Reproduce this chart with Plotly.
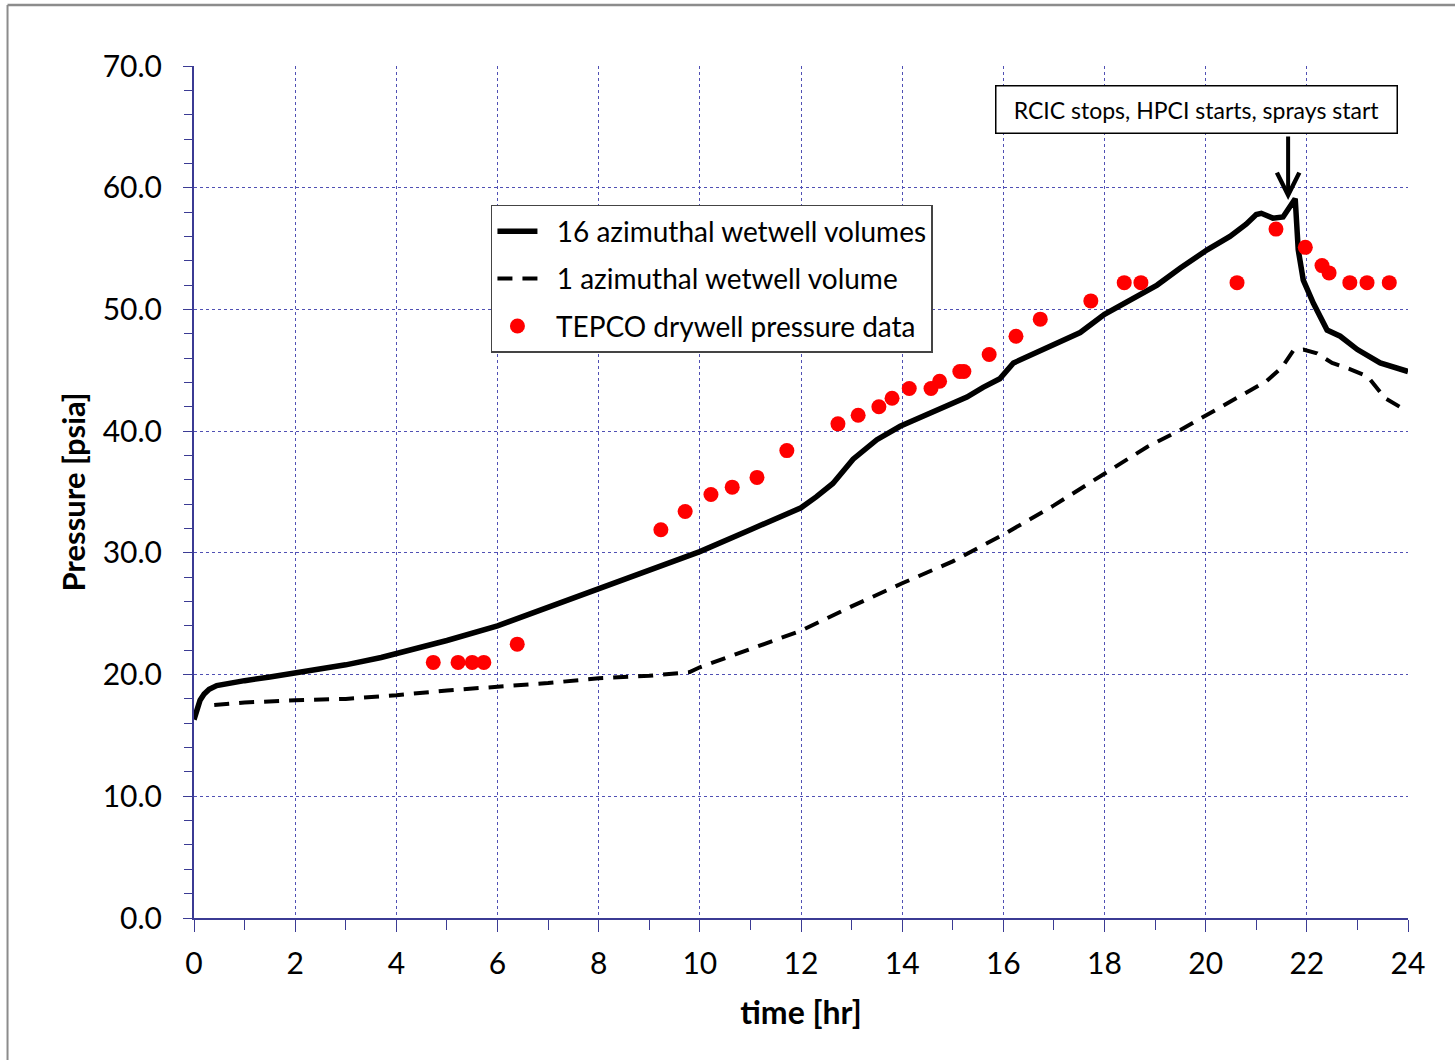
import plotly.graph_objects as go

# ---- data ----
solid_t = [0.0, 0.06, 0.12, 0.2, 0.3, 0.45, 0.7, 1.0, 1.5, 2.0, 3.0, 3.7, 4.0, 5.0, 6.0, 7.0, 8.0, 9.0,
           10.0, 11.0, 12.0, 12.3, 12.63, 13.03, 13.5, 13.96, 14.6, 15.28, 15.6, 15.93, 16.2, 16.86,
           17.52, 18.0, 18.5, 19.04, 19.5, 20.03, 20.48, 20.8, 21.0, 21.1, 21.33, 21.53, 21.77,
           21.83, 21.93, 22.13, 22.4, 22.66, 23.0, 23.45, 24.0]
solid_p = [16.3, 17.2, 17.9, 18.4, 18.8, 19.1, 19.3, 19.5, 19.8, 20.1, 20.8, 21.4, 21.7, 22.8, 24.0, 25.5, 27.0, 28.6,
           30.1, 31.9, 33.7, 34.6, 35.7, 37.7, 39.3, 40.4, 41.6, 42.8, 43.6, 44.3, 45.6, 46.9,
           48.1, 49.6, 50.8, 52.0, 53.4, 54.9, 56.0, 57.0, 57.8, 57.9, 57.5, 57.6, 59.1,
           54.9, 52.4, 50.5, 48.3, 47.8, 46.7, 45.6, 44.9]

dash_t = [0.4, 1.0, 2.0, 3.0, 4.0, 5.0, 6.0, 7.0, 8.0, 9.0, 9.8, 10.0, 11.0, 12.0, 13.0, 14.0, 15.0, 16.0,
          17.0, 18.0, 18.84, 19.5, 20.15, 20.8, 21.2, 21.5, 21.73, 21.93, 22.2, 22.5, 22.85, 23.2, 23.55, 24.0]
dash_p = [17.5, 17.7, 17.9, 18.0, 18.3, 18.7, 19.0, 19.3, 19.7, 19.9, 20.2, 20.6, 22.1, 23.6, 25.6, 27.5, 29.3, 31.5,
          33.9, 36.5, 38.7, 40.1, 41.6, 43.1, 44.1, 45.2, 46.6, 46.7, 46.4, 45.6, 45.1, 44.5, 42.7, 41.6]

tepco_t = [4.73, 5.22, 5.50, 5.73, 6.39, 9.23, 9.71, 10.22, 10.64, 11.13, 11.72, 12.73, 13.13, 13.54,
           13.80, 14.14, 14.57, 14.74, 15.14, 15.22, 15.72, 16.25, 16.73, 17.73, 18.39, 18.72, 20.62,
           21.39, 21.97, 22.30, 22.44, 22.85, 23.19, 23.63]
tepco_p = [21.0, 21.0, 21.0, 21.0, 22.5, 31.9, 33.4, 34.8, 35.4, 36.2, 38.4, 40.6, 41.3, 42.0,
           42.7, 43.5, 43.5, 44.1, 44.9, 44.9, 46.3, 47.8, 49.2, 50.7, 52.2, 52.2, 52.2,
           56.6, 55.1, 53.6, 53.0, 52.2, 52.2, 52.2]

series_names = ["16 azimuthal wetwell volumes", "1 azimuthal wetwell volume", "TEPCO drywell pressure data"]
annotation_text = "RCIC stops, HPCI starts, sprays start"
event_t, event_p = 21.63, 59.0

FONT = "Lato"
AXIS_COL = "#3b3b94"
GRID_COL = "#5050b4"
PAD = "\u00a0\u00a0"

fig = go.Figure()
fig.add_trace(go.Scatter(x=solid_t, y=solid_p, mode="lines", name=PAD + series_names[0],
                         line=dict(color="black", width=5.5), legendgroup="a"))
fig.add_trace(go.Scatter(x=dash_t, y=dash_p, mode="lines", name=PAD + series_names[1],
                         line=dict(color="black", width=4, dash="15px,10px"), legendgroup="b"))
fig.add_trace(go.Scatter(x=tepco_t, y=tepco_p, mode="markers", name=PAD + series_names[2],
                         marker=dict(color="#ff0000", size=15, line=dict(width=0)), legendgroup="c"))

fig.update_layout(
    width=1455, height=1060,
    margin=dict(l=194, r=47, t=66, b=142),
    paper_bgcolor="white", plot_bgcolor="white",
    font=dict(family=FONT, color="black"),
    showlegend=True,
    legend=dict(x=0.2446, y=0.8369, xanchor="left", yanchor="top",
                bgcolor="white", bordercolor="#444444", borderwidth=1.5,
                font=dict(family=FONT, size=28, color="black"),
                tracegroupgap=8, traceorder="grouped", itemwidth=40),
    xaxis=dict(range=[0, 24], dtick=2, tick0=0, showgrid=True, gridcolor=GRID_COL, gridwidth=1,
               griddash="dot", showline=True, linecolor=AXIS_COL, linewidth=2,
               ticks="outside", ticklen=12, tickwidth=1, tickcolor=AXIS_COL,
               minor=dict(dtick=1, ticks="outside", ticklen=10, tickwidth=1, tickcolor=AXIS_COL, showgrid=False),
               tickfont=dict(family=FONT, size=30, color="black"), ticklabelstandoff=6,
               zeroline=False,
               title=dict(text="time [hr]", font=dict(family=FONT, size=32, weight="bold"), standoff=23)),
    yaxis=dict(range=[0, 70], dtick=10, tick0=0, tickformat=".1f", showgrid=True, gridcolor=GRID_COL,
               gridwidth=1, griddash="dot", showline=True, linecolor=AXIS_COL, linewidth=2,
               ticks="outside", ticklen=9, tickwidth=1, tickcolor=AXIS_COL,
               minor=dict(dtick=2, ticks="outside", ticklen=8, tickwidth=1, tickcolor=AXIS_COL, showgrid=False),
               tickfont=dict(family=FONT, size=30, color="black"), ticklabelstandoff=15,
               zeroline=False,
               title=dict(text="Pressure [psia]", font=dict(family=FONT, size=31, weight="bold"), standoff=8)),
    xaxis2=dict(range=[0, 24], overlaying="x", anchor="y", side="bottom", dtick=1, tick0=0,
                ticks="inside", ticklen=11, tickwidth=1, tickcolor=AXIS_COL, showticklabels=False,
                showgrid=False, showline=False, zeroline=False),
    yaxis2=dict(range=[0, 70], overlaying="y", anchor="x", side="left", dtick=2, tick0=0,
                ticks="inside", ticklen=9, tickwidth=1, tickcolor=AXIS_COL, showticklabels=False,
                showgrid=False, showline=False, zeroline=False),
)

# annotation box
fig.add_annotation(x=19.81, y=66.4, xref="x", yref="y", text=annotation_text, showarrow=False,
                   font=dict(family=FONT, size=23, color="black"), bgcolor="white",
                   bordercolor="black", borderwidth=1.5, borderpad=8, width=384, height=30)
# arrow
fig.add_annotation(x=event_t, y=event_p, xref="x", yref="y", text="", showarrow=True,
                   ax=0, ay=-65, axref="pixel", ayref="pixel", arrowhead=5, arrowsize=1.1,
                   arrowwidth=4, arrowcolor="black")

# outer frame of the original slide
fig.add_shape(type="line", xref="paper", yref="paper", x0=-0.1536, x1=-0.1536, y0=1.0716, y1=-0.17,
              line=dict(color="#8c8c8c", width=2))
fig.add_shape(type="line", xref="paper", yref="paper", x0=-0.1536, x1=1.04, y0=1.0716, y1=1.0716,
              line=dict(color="#8c8c8c", width=2.5))

fig.write_html("out.html")
